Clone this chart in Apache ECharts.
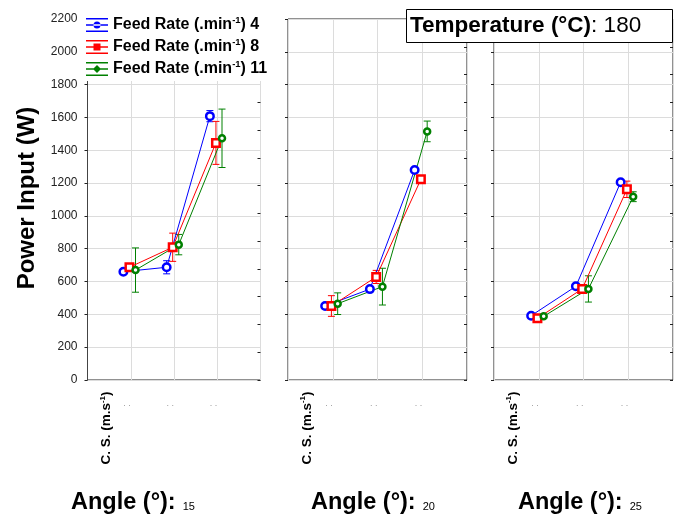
<!DOCTYPE html>
<html>
<head>
<meta charset="utf-8">
<script src="https://cdn.jsdelivr.net/npm/echarts@6/dist/echarts.min.js"></script>
<style>
html,body{margin:0;padding:0;background:#fff;}
#chart{width:676px;height:519px;}
</style>
</head>
<body>
<div id="chart"></div>
<script>
// ---------- data ----------
const cuttingSpeedIdx = [1, 2, 3];          // three (unlabelled) cutting-speed levels
const angles = ['15', '20', '25'];
const feedRates = ['4', '8', '11'];
const temperature = '180';
const yTickMin = 0, yTickMax = 2200, yTickStep = 200;

// mean power input (W)
const power_A15_F4  = [660, 687, 1608];
const power_A15_F8  = [687, 809, 1445];
const power_A15_F11 = [670, 825, 1473];
const power_A20_F4  = [451, 554, 1280];
const power_A20_F8  = [451, 628, 1223];
const power_A20_F11 = [465, 569, 1515];
const power_A25_F4  = [392, 571, 1205];
const power_A25_F8  = [376, 555, 1162];
const power_A25_F11 = [388, 555, 1117];

// half-width of error bars (W)
const err_A15_F4  = [12, 40, 34];
const err_A15_F8  = [10, 86, 131];
const err_A15_F11 = [135, 62, 178];
const err_A20_F4  = [10, 8, 10];
const err_A20_F8  = [63, 40, 15];
const err_A20_F11 = [66, 112, 63];
const err_A25_F4  = [8, 8, 8];
const err_A25_F8  = [6, 10, 50];
const err_A25_F11 = [10, 80, 30];

const powerByPanel = [
  [power_A15_F4, power_A15_F8, power_A15_F11],
  [power_A20_F4, power_A20_F8, power_A20_F11],
  [power_A25_F4, power_A25_F8, power_A25_F11]
];
const errByPanel = [
  [err_A15_F4, err_A15_F8, err_A15_F11],
  [err_A20_F4, err_A20_F8, err_A20_F11],
  [err_A25_F4, err_A25_F8, err_A25_F11]
];

// ---------- styling ----------
const colors = ['#0000ff', '#ff0000', '#008000'];
const dodge = [-0.17, -0.03, 0.11];          // horizontal offset of each feed-rate group
const symbols = ['circle', 'rect', 'circle'];
const symbolSizes = [7.5, 7.5, 6];
const symbolBorder = [2.5, 2.5, 2.5];
const grids = [
  {left: 87.5, top: 19, width: 173, height: 361},
  {left: 288, top: 19, width: 179, height: 361},
  {left: 494, top: 19, width: 180, height: 361}
];
const seriesNames = feedRates.map(f => 'Feed Rate (.min-1) ' + f);

const legendIcons = [
  'path://M0,0H22V1.4H0Z M0,6.3H22V7.7H0Z M0,12.6H22V14H0Z M7.5,7a3.5,3.5 0 1,0 7,0a3.5,3.5 0 1,0 -7,0Z',
  'path://M0,0H22V1.4H0Z M0,6.3H22V7.7H0Z M0,12.6H22V14H0Z M7.5,3.5H14.5V10.5H7.5Z',
  'path://M0,0H22V1.4H0Z M0,6.3H22V7.7H0Z M0,12.6H22V14H0Z M11,3L15,7L11,11L7,7Z'
];

const chart = echarts.init(document.getElementById('chart'), null, {renderer: 'canvas'});

const xAxes = [], yAxes = [], series = [];
grids.forEach((g, p) => {
  xAxes.push({
    type: 'value', gridIndex: p, min: 0, max: 4, interval: 1,
    axisLine: {show: false}, axisTick: {show: false},
    splitLine: {show: true, lineStyle: {color: '#dcdcdc', width: 1}},
    axisLabel: {
      show: true, margin: 19, fontSize: 9, color: '#999', align: 'right',
      formatter: v => (cuttingSpeedIdx.indexOf(v) >= 0 ? '. .' : '')
    }
  });
  yAxes.push({
    type: 'value', gridIndex: p, position: 'left', min: yTickMin, max: yTickMax, interval: yTickStep,
    axisLine: {show: p === 0, lineStyle: {color: '#444', width: 1}},
    axisTick: {show: true, length: 3, lineStyle: {color: '#222'}},
    axisLabel: {show: p === 0, fontSize: 12, color: '#222', margin: 10,
      fontFamily: 'Liberation Sans, Arial, sans-serif', formatter: v => String(v)},
    splitLine: {show: true, lineStyle: {color: '#dcdcdc', width: 1}}
  });
  yAxes.push({
    type: 'value', gridIndex: p, position: 'right', min: 0, max: yTickMax, interval: yTickMax / 13,
    axisLine: {show: false},
    axisTick: {show: true, inside: true, length: 3, lineStyle: {color: '#222'}},
    axisLabel: {show: false}, splitLine: {show: false}
  });
  for (let f = 0; f < 3; f++) {
    const vals = powerByPanel[p][f];
    const errs = errByPanel[p][f];
    series.push({
      type: 'custom', xAxisIndex: p, yAxisIndex: 2 * p, z: 2, silent: true,
      data: cuttingSpeedIdx.map((c, i) => [c + dodge[f], vals[i] - errs[i], vals[i] + errs[i]]),
      encode: {x: 0, y: [1, 2]},
      renderItem: (params, api) => {
        const x = api.value(0);
        const lo = api.coord([x, api.value(1)]);
        const hi = api.coord([x, api.value(2)]);
        const hw = 3.5;
        const st = {stroke: colors[f], lineWidth: 1};
        return {type: 'group', children: [
          {type: 'line', shape: {x1: lo[0], y1: lo[1], x2: hi[0], y2: hi[1]}, style: st},
          {type: 'line', shape: {x1: lo[0] - hw, y1: lo[1], x2: lo[0] + hw, y2: lo[1]}, style: st},
          {type: 'line', shape: {x1: hi[0] - hw, y1: hi[1], x2: hi[0] + hw, y2: hi[1]}, style: st}
        ]};
      }
    });
    series.push({
      type: 'line', name: seriesNames[f], xAxisIndex: p, yAxisIndex: 2 * p, z: 3,
      data: cuttingSpeedIdx.map((c, i) => [c + dodge[f], vals[i]]),
      symbol: symbols[f], symbolSize: symbolSizes[f], showSymbol: true,
      lineStyle: {color: colors[f], width: 1},
      itemStyle: {color: '#fff', borderColor: colors[f], borderWidth: symbolBorder[f]},
      emphasis: {disabled: true}
    });
  }
});

const fontFam = 'Liberation Sans, Arial, sans-serif';
const option = {
  animation: false,
  backgroundColor: '#fff',
  textStyle: {fontFamily: fontFam},
  grid: grids.map(g => Object.assign({show: true, borderColor: '#222', borderWidth: 1, backgroundColor: 'transparent'}, g)),
  xAxis: xAxes,
  yAxis: yAxes,
  legend: {
    orient: 'vertical', left: 84, top: 11,
    padding: [4, 4, 4, 2], itemGap: 4,
    itemWidth: 22, itemHeight: 14,
    backgroundColor: '#fff',
    selectedMode: false,
    data: seriesNames.map((n, i) => ({name: n, icon: legendIcons[i], itemStyle: {color: colors[i], borderWidth: 0}})),
    formatter: name => {
      const fr = name.split(' ').pop();
      return '{a|Feed Rate (.min}{s|-1}{a|) ' + fr + '}';
    },
    textStyle: {
      rich: {
        a: {fontSize: 16, fontWeight: 'bold', color: '#000', lineHeight: 18.5, fontFamily: fontFam},
        s: {fontSize: 9.5, fontWeight: 'bold', color: '#000', padding: [0, 0, 10, 0], fontFamily: fontFam}
      }
    }
  },
  graphic: [
    {
      type: 'text', x: 27, y: 198, rotation: Math.PI / 2,
      style: {text: 'Power Input (W)', font: 'bold 24px ' + fontFam, fill: '#000', align: 'center', verticalAlign: 'middle'}
    },
    {
      type: 'rect', z: 100,
      shape: {x: 406.5, y: 9.5, width: 266, height: 33},
      style: {fill: '#fff', stroke: '#000', lineWidth: 1}
    },
    {
      type: 'text', z: 101, x: 410, y: 26,
      style: {
        text: '{b|Temperature (°C)}{n|: ' + temperature + '}',
        verticalAlign: 'middle', align: 'left',
        rich: {
          b: {fontSize: 22.5, fontWeight: 'bold', fill: '#000', fontFamily: fontFam},
          n: {fontSize: 22.5, fill: '#000', fontFamily: fontFam}
        }
      }
    }
  ].concat(grids.map((g, p) => ({
    type: 'text', x: g.left + 19, y: 428, rotation: Math.PI / 2,
    style: {
      text: '{a|C. S. (m.s}{s|-1}{a|)}', align: 'center', verticalAlign: 'middle',
      rich: {
        a: {fontSize: 13.5, fontWeight: 'bold', fill: '#000', fontFamily: fontFam, lineHeight: 16},
        s: {fontSize: 8, fontWeight: 'bold', fill: '#000', fontFamily: fontFam, padding: [0, 0, 8, 0]}
      }
    }
  }))).concat([71, 311, 518].map((x, p) => ({
    type: 'text', x: x, y: 503,
    style: {
      text: '{b|Angle (°):}{n|' + angles[p] + '}', align: 'left', verticalAlign: 'middle',
      rich: {
        b: {fontSize: 23.5, fontWeight: 'bold', fill: '#000', fontFamily: fontFam, lineHeight: 26},
        n: {fontSize: 11, fill: '#000', fontFamily: fontFam, padding: [8, 0, 0, 7]}
      }
    }
  }))),
  series: series
};
chart.setOption(option);
</script>
</body>
</html>
